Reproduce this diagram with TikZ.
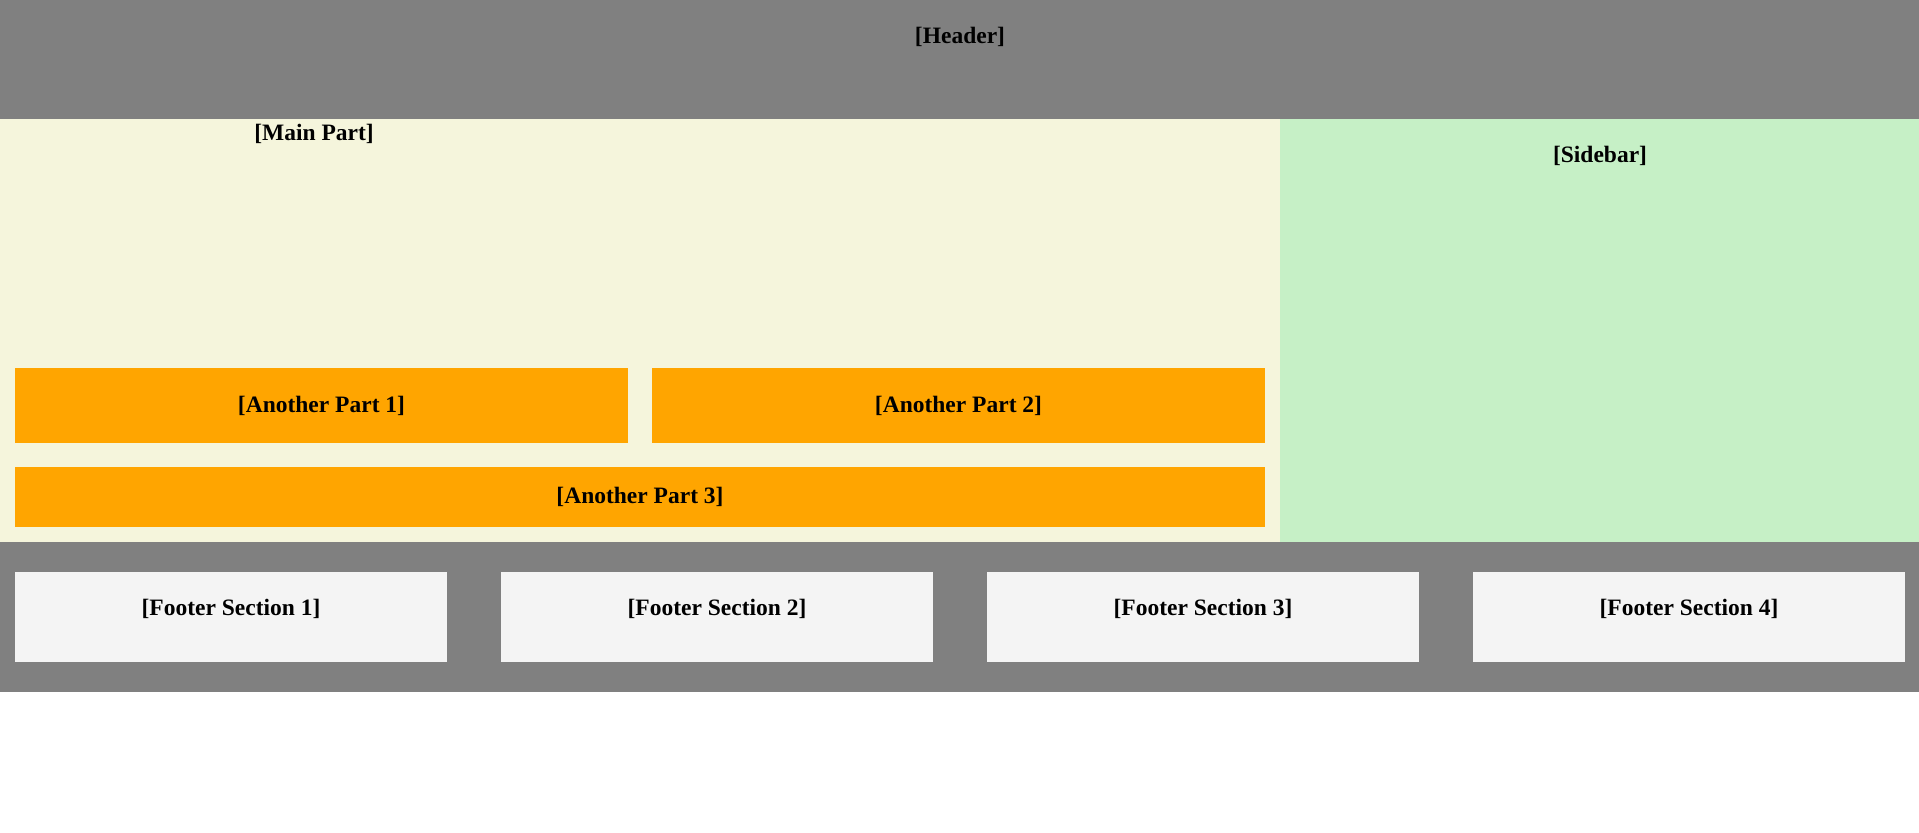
\documentclass[tikz,border=0pt]{standalone}
\usepackage{fontspec}
\setmainfont{Liberation Serif}

\definecolor{hdrgray}{RGB}{128,128,128}
\definecolor{mainbeige}{RGB}{245,245,220}
\definecolor{sidegreen}{RGB}{198,240,198}
\definecolor{partorange}{RGB}{255,165,0}
\definecolor{footbox}{RGB}{244,244,244}

\begin{document}
\begin{tikzpicture}[x=0.5pt,y=-0.5pt,
    lbl/.style={inner sep=0pt,font=\fontsize{11.75}{14}\selectfont\bfseries}]

        \useasboundingbox (0,0) rectangle (1919,833);
        \fill[white] (0,0) rectangle (1919,833);

        % header, main part, sidebar, footer
        \fill[hdrgray] (0,0) rectangle (1919,119);
        \fill[mainbeige] (0,119) rectangle (1280,542);
        \fill[sidegreen] (1280,119) rectangle (1919,542);
        \fill[hdrgray] (0,542) rectangle (1919,692);

        \node[lbl] (header) at (960,37) {[Header]};
        \node[lbl] (main) at (314,134) {[Main Part]};
        \node[lbl] (sidebar) at (1600,156) {[Sidebar]};

        % the three orange parts
        \fill[partorange] (15,368) rectangle (628,443);
        \fill[partorange] (652,368) rectangle (1265,443);
        \fill[partorange] (15,467) rectangle (1265,527);
        \node[lbl] (part1) at (321.5,405.5) {[Another Part 1]};
        \node[lbl] (part2) at (958.5,405.5) {[Another Part 2]};
        \node[lbl] (part3) at (640,497) {[Another Part 3]};

        % footer sections
        \foreach \i in {1,...,4} {
            \fill[footbox] ({15+486*(\i-1)},572) rectangle ({447+486*(\i-1)},662);
            \node[lbl] (foot\i) at ({231+486*(\i-1)},609) {[Footer Section \i]};
        }

\end{tikzpicture}
\end{document}
